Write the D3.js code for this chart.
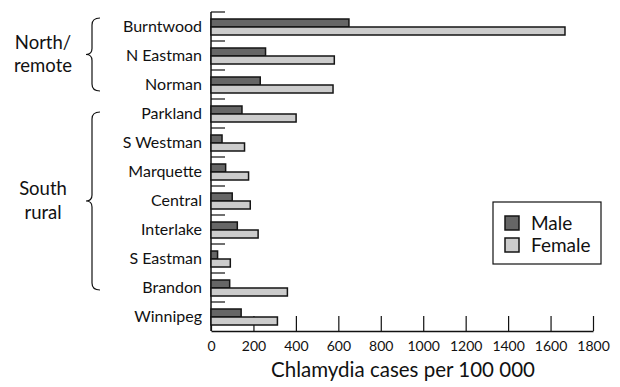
<!DOCTYPE html>
<html>
<head>
<meta charset="utf-8">
<script src="https://cdn.jsdelivr.net/npm/d3@7"></script>
<style>
  body { margin: 0; background: #fff; }
  svg text { font-family: "Lato", "Open Sans", sans-serif; fill: #111; }
</style>
</head>
<body>
<div id="chart"></div>
<script>
// *Data
const regions = ["Burntwood", "N Eastman", "Norman", "Parkland", "S Westman", "Marquette",
  "Central", "Interlake", "S Eastman", "Brandon", "Winnipeg"];
const male = [650, 257, 232, 146, 52, 69, 100, 124, 31, 88, 142];
const female = [1668, 581, 575, 401, 158, 177, 185, 222, 91, 360, 313];
const sexes = ["Male", "Female"];
const xTicks = [0, 200, 400, 600, 800, 1000, 1200, 1400, 1600, 1800];
const groups = [
  { lines: ["North/", "remote"], first: "Burntwood", last: "Norman" },
  { lines: ["South", "rural"], first: "Parkland", last: "Brandon" },
];

const data = regions.map((r, i) => ({ region: r, Male: male[i], Female: female[i] }));

// *Dimensions
let margin = { top: 12, right: 27, bottom: 56, left: 211 },
  width = 620 - margin.left - margin.right,
  height = 387 - margin.top - margin.bottom;

let svg = d3
  .select("#chart")
  .append("svg")
  .attr("width", 620)
  .attr("height", 387)
  .append("g")
  .attr("transform", "translate(" + margin.left + "," + margin.top + ")");

let color = d3.scaleOrdinal().domain(sexes).range(["#666666", "#cccccc"]);

let x = d3.scaleLinear().domain([0, 1800]).range([0, width]);
let y = d3.scaleBand().domain(regions).range([0, height]);
let ySub = d3.scaleBand().domain(sexes).range([7, 23]);

// *X axis with ticks pointing up
let xAxis = svg
  .append("g")
  .attr("transform", "translate(0," + height + ")")
  .call(
    d3.axisBottom(x).tickValues(xTicks).tickFormat(d3.format("d"))
      .tickSize(-15).tickSizeOuter(0).tickPadding(10)
  );
xAxis.select(".domain").attr("stroke", "#111").attr("stroke-width", 1.5);
xAxis.selectAll(".tick line").attr("stroke", "#111").attr("stroke-width", 1.2);
xAxis.selectAll("text").style("font-size", "14px");

// *Y axis labels only, ticks sit on the band edges
let yAxis = svg.append("g").call(d3.axisLeft(y).tickSize(0).tickPadding(9));
yAxis.select(".domain").remove();
yAxis.selectAll("text").style("font-size", "16px");

svg
  .selectAll(".bandTick")
  .data(regions)
  .enter()
  .append("line")
  .attr("class", "bandTick")
  .attr("x1", 0)
  .attr("x2", 14)
  .attr("y1", (d) => y(d))
  .attr("y2", (d) => y(d))
  .attr("stroke", "#111")
  .attr("stroke-width", 1.2);

svg
  .append("line")
  .attr("x1", 0)
  .attr("x2", 0)
  .attr("y1", 0)
  .attr("y2", height)
  .attr("stroke", "#111")
  .attr("stroke-width", 1.5);

// *Bars
let rows = svg
  .selectAll(".row")
  .data(data)
  .enter()
  .append("g")
  .attr("transform", (d) => "translate(0," + y(d.region) + ")");

rows
  .selectAll("rect")
  .data((d) => sexes.map((s) => ({ sex: s, value: d[s] })))
  .enter()
  .append("rect")
  .attr("x", x(0))
  .attr("y", (d) => ySub(d.sex))
  .attr("width", (d) => x(d.value))
  .attr("height", ySub.bandwidth())
  .attr("fill", (d) => color(d.sex))
  .attr("stroke", "#151515")
  .attr("stroke-width", 1.5);

// *X axis title
svg
  .append("text")
  .attr("x", width / 2 + 1)
  .attr("y", height + 46)
  .attr("text-anchor", "middle")
  .style("font-size", "20.5px")
  .text("Chlamydia cases per 100 000");

// *Group braces and labels
const offsets = [{ top: 6, bottom: -8 }, { top: 13, bottom: -12 }];
groups.forEach(function (g, i) {
  let y0 = y(g.first) + offsets[i].top;
  let y1 = y(g.last) + y.bandwidth() + offsets[i].bottom;
  let mid = (y0 + y1) / 2;
  let bx = -119, tip = -125, end = -111;
  let p = d3.path();
  p.moveTo(end, y0);
  p.quadraticCurveTo(bx, y0, bx, y0 + 7);
  p.lineTo(bx, mid - 6);
  p.quadraticCurveTo(bx, mid, tip, mid);
  p.quadraticCurveTo(bx, mid, bx, mid + 6);
  p.lineTo(bx, y1 - 7);
  p.quadraticCurveTo(bx, y1, end, y1);
  svg
    .append("path")
    .attr("d", p.toString())
    .attr("fill", "none")
    .attr("stroke", "#111")
    .attr("stroke-width", 1.2);

  svg
    .append("text")
    .attr("x", -168)
    .attr("y", mid)
    .attr("text-anchor", "middle")
    .style("font-size", "18.5px")
    .selectAll("tspan")
    .data(g.lines)
    .enter()
    .append("tspan")
    .attr("x", -168)
    .attr("dy", (d, j) => (j === 0 ? "-0.3em" : "1.25em"))
    .text((d) => d);
});

// *Legend
let legend = svg.append("g").attr("transform", "translate(" + (493 - margin.left) + "," + (202 - margin.top) + ")");
legend
  .append("rect")
  .attr("width", 108)
  .attr("height", 62)
  .attr("fill", "#fff")
  .attr("stroke", "#111")
  .attr("stroke-width", 1.2);
let items = legend
  .selectAll(".item")
  .data(sexes)
  .enter()
  .append("g")
  .attr("transform", (d, i) => "translate(12," + (14 + i * 22) + ")");
items
  .append("rect")
  .attr("width", 14)
  .attr("height", 14)
  .attr("fill", (d) => color(d))
  .attr("stroke", "#151515")
  .attr("stroke-width", 1.5);
items
  .append("text")
  .attr("x", 26)
  .attr("y", 7)
  .attr("dy", "0.35em")
  .style("font-size", "19px")
  .text((d) => d);
</script>
</body>
</html>
